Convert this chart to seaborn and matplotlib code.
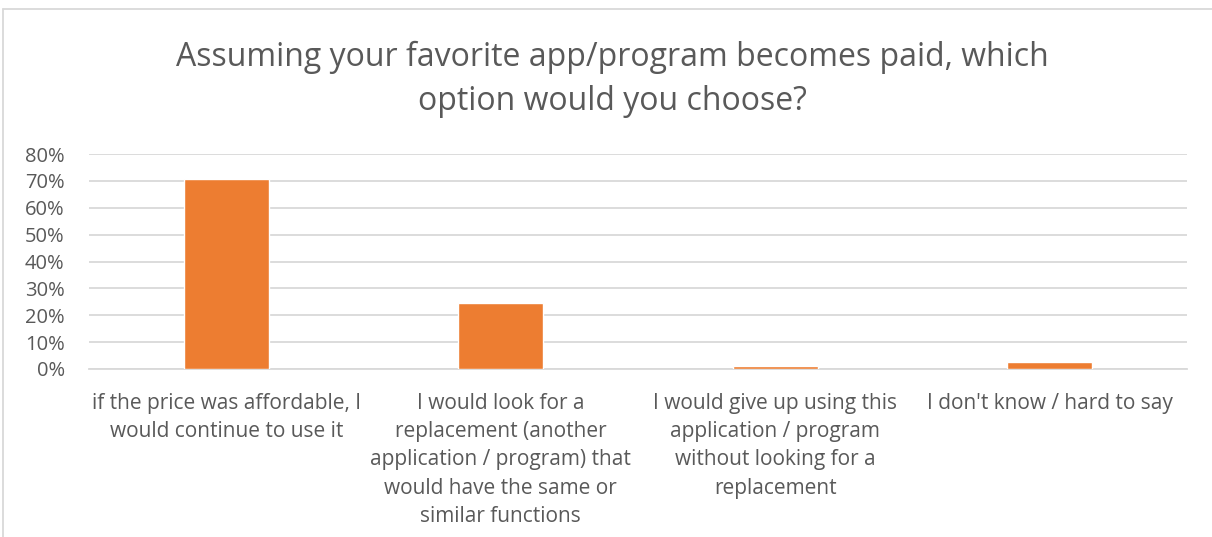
import matplotlib
matplotlib.use("Agg")
import matplotlib.pyplot as plt
from matplotlib.lines import Line2D
from matplotlib.ticker import PercentFormatter
import seaborn as sns
import pandas as pd

# Survey answers and their shares
categories = [
    "if the price was affordable, I\nwould continue to use it",
    "I would look for a\nreplacement (another\napplication / program) that\nwould have the same or\nsimilar functions",
    "I would give up using this\napplication / program\nwithout looking for a\nreplacement",
    "I don't know / hard to say",
]
shares = [70.7, 24.4, 1.3, 2.6]
y_ticks = [0, 10, 20, 30, 40, 50, 60, 70, 80]
title = "Assuming your favorite app/program becomes paid, which\noption would you choose?"

df = pd.DataFrame({"answer": categories, "share": shares})

sns.set_theme(style="white")
plt.rcParams["font.family"] = ["Open Sans", "DejaVu Sans"]

text_color = "#595959"
grid_color = "#d9d9d9"
bar_color = "#ed7d31"

fig = plt.figure(figsize=(12.12, 5.37), dpi=100)
ax = fig.add_axes([89 / 1212, 1 - 369 / 537, (1187 - 89) / 1212, (369 - 154) / 537])

sns.barplot(data=df, x="answer", y="share", color=bar_color, width=0.31,
            saturation=1, ax=ax, zorder=3)

ax.set_ylim(0, 80)
ax.set_yticks(y_ticks)
ax.yaxis.set_major_formatter(PercentFormatter(decimals=0))
ax.grid(axis="y", color=grid_color, linewidth=1.3, zorder=0)
for side in ["top", "right", "left"]:
    ax.spines[side].set_visible(False)
ax.spines["bottom"].set_color(grid_color)
ax.spines["bottom"].set_linewidth(1.3)
ax.set_xlabel("")
ax.set_ylabel("")
ax.tick_params(axis="y", labelsize=14.5, colors=text_color, pad=17.5, length=0)
ax.tick_params(axis="x", labelsize=15, colors=text_color, pad=17, length=0)
for lbl in ax.get_xticklabels():
    lbl.set_linespacing(1.46)
    lbl.set_ha("center")
    lbl.set_va("top")

fig.text(0.505, 1 - 41 / 537, title, ha="center", va="top", fontsize=23,
         color=text_color, linespacing=1.42)

# chart frame (top and left edges)
fig.add_artist(Line2D([3 / 1212, 1], [1 - 9 / 537, 1 - 9 / 537],
                      transform=fig.transFigure, color=grid_color, linewidth=1.3))
fig.add_artist(Line2D([3 / 1212, 3 / 1212], [0, 1 - 9 / 537],
                      transform=fig.transFigure, color=grid_color, linewidth=1.3))

fig.savefig("out.png", dpi=100, facecolor="white")
